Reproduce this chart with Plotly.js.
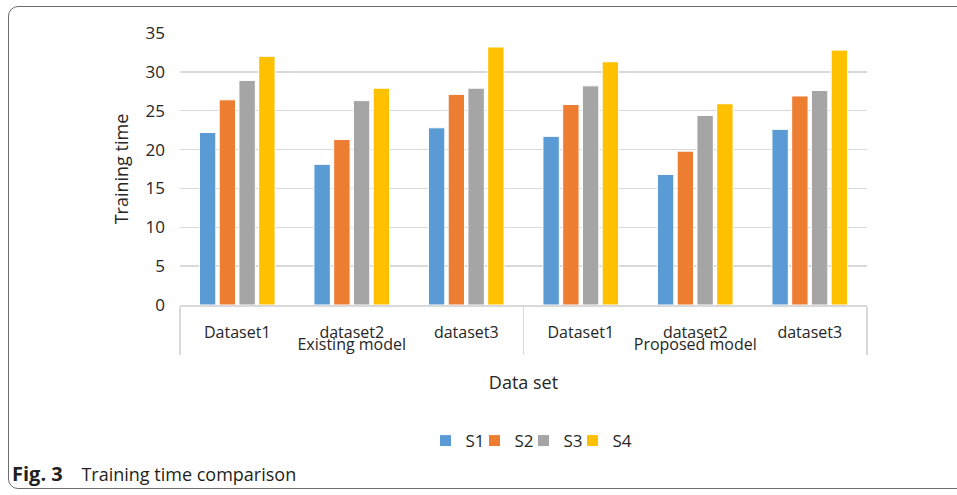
<!DOCTYPE html>
<html>
<head>
<meta charset="utf-8">
<script src="https://cdn.plot.ly/plotly-3.0.1.min.js"></script>
<style>
  html, body { margin: 0; padding: 0; background: #fff; overflow: hidden; }
  #wrap { position: relative; width: 957px; height: 495px; }
  #frame { position: absolute; left: 8px; top: 6px; width: 1000px; height: 483px;
           border: 1px solid #6b6b6b; border-radius: 10px; box-sizing: border-box; }
  #chart { position: absolute; left: 0; top: 0; width: 957px; height: 495px; }
  /* legend entries are packed tighter than their text; let the last label show */
  #chart .legend .scrollbox { clip-path: none !important; }
</style>
</head>
<body>
<div id="wrap">
  <div id="frame"></div>
  <div id="chart"></div>
</div>
<script>
// Training time per model / dataset for four settings S1..S4
const models   = ['Existing model', 'Existing model', 'Existing model',
                  'Proposed model', 'Proposed model', 'Proposed model'];
const datasets = ['Dataset1', 'dataset2', 'dataset3', 'Dataset1', 'dataset2', 'dataset3'];
const seriesNames = ['S1', 'S2', 'S3', 'S4'];
const s1 = [22.2, 18.1, 22.8, 21.7, 16.8, 22.6];
const s2 = [26.4, 21.3, 27.1, 25.8, 19.8, 26.9];
const s3 = [28.9, 26.3, 27.9, 28.2, 24.4, 27.6];
const s4 = [32.0, 27.9, 33.2, 31.3, 25.9, 32.8];
const colors = ['#5B9BD5', '#ED7D31', '#A5A5A5', '#FFC000'];

const font = '"Open Sans", Lato, sans-serif';

const traces = [s1, s2, s3, s4].map((vals, i) => ({
  type: 'bar',
  name: seriesNames[i],
  x: [models, datasets],
  y: vals,
  marker: { color: colors[i], line: { color: '#ffffff', width: 1 } },
  hoverinfo: 'x+y+name'
}));

const layout = {
  width: 957, height: 495,
  paper_bgcolor: 'rgba(0,0,0,0)',
  plot_bgcolor: 'rgba(0,0,0,0)',
  margin: { l: 180, r: 90, t: 33, b: 190 },
  barmode: 'group',
  bargap: 0.31,
  bargroupgap: 0.17,
  font: { family: font, size: 16, color: '#262626' },
  xaxis: {
    type: 'multicategory',
    showline: true, linecolor: '#d9d9d9', linewidth: 1.5,
    showgrid: false,
    ticks: '',
    ticklabelstandoff: 12,
    showdividers: true, dividercolor: '#d9d9d9', dividerwidth: 1.5,
    tickfont: { family: font, size: 16, color: '#262626' },
    title: { text: 'Data set', font: { family: font, size: 18, color: '#262626' }, standoff: 22 }
  },
  yaxis: {
    range: [0, 35], dtick: 5,
    showgrid: true, gridcolor: '#d9d9d9', gridwidth: 1.5,
    zeroline: false, showline: false, ticks: '',
    ticklen: 0, ticklabelstandoff: 14,
    tickfont: { family: font, size: 17, color: '#262626' },
    title: { text: 'Training time', font: { family: font, size: 18, color: '#262626' }, standoff: 12 }
  },
  legend: {
    orientation: 'h', x: 0.5, xanchor: 'center', y: -0.434, yanchor: 'top',
    font: { family: font, size: 17, color: '#262626' },
    itemwidth: 30, tracegroupgap: 0, entrywidth: 4
  },
  annotations: [{
    xref: 'paper', yref: 'paper', x: -0.248, y: -0.618,
    xanchor: 'left', yanchor: 'middle', showarrow: false,
    text: '<span style="font-size:20px"><b>Fig. 3</b></span>\u00a0\u00a0\u00a0\u00a0Training time comparison',
    font: { family: font, size: 18, color: '#231f20' }
  }]
};

Plotly.newPlot('chart', traces, layout, { displayModeBar: false, staticPlot: true });
</script>
</body>
</html>
